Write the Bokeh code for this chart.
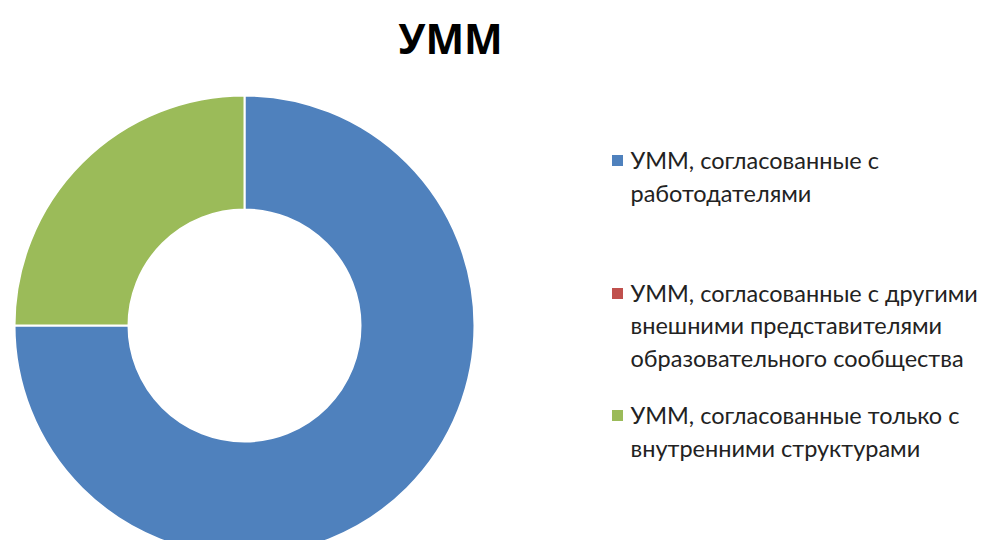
import math
from bokeh.plotting import figure
from bokeh.models import Range1d
from bokeh.core.properties import value
from bokeh.embed import file_html
from bokeh.resources import INLINE

title = "УММ"
labels = [
    " УММ, согласованные с\nработодателями",
    "УММ, согласованные с другими\nвнешними представителями\nобразовательного сообщества",
    "УММ, согласованные только с\nвнутренними структурами",
]
shares = [75, 0, 25]
colors = ["#4F81BD", "#C0504D", "#9BBB59"]

W, H = 980, 540
p = figure(width=W, height=H, output_backend="svg", toolbar_location=None,
           x_range=Range1d(0, W), y_range=Range1d(-H, 0),
           min_border=0, outline_line_color=None)
p.axis.visible = False
p.grid.visible = False

# donut
cx, cy = 244, -325
r_out, r_in = 230, 116
total = sum(shares)
start = math.pi / 2
ws, we, wc = [], [], []
for s, c in zip(shares, colors):
    ang = 2 * math.pi * s / total
    if s > 0:
        ws.append(start)
        we.append(start - ang)
        wc.append(c)
    start -= ang
p.annular_wedge(x=[cx] * len(ws), y=[cy] * len(ws), inner_radius=r_in, outer_radius=r_out,
                start_angle=ws, end_angle=we, direction="clock",
                fill_color=wc, line_color="white", line_width=2)

# title
p.text(x=[450], y=[-37], text=[title], text_font=value("Open Sans"), text_font_size="41px",
       text_font_style="bold", text_align="center", text_baseline="middle", text_color="black")

# legend
leg_y = [-160, -293, -415]
p.rect(x=[617] * 3, y=leg_y, width=11, height=11, fill_color=colors, line_color=None)
p.text(x=[630] * 3, y=leg_y, text=labels, text_font=value("Lato"), text_font_size="23.5px",
       text_baseline="middle", text_align="left", text_color="#222222",
       text_line_height=1.15, y_offset=[16, 32, 16])

open("out.html", "w").write(file_html(p, INLINE))
